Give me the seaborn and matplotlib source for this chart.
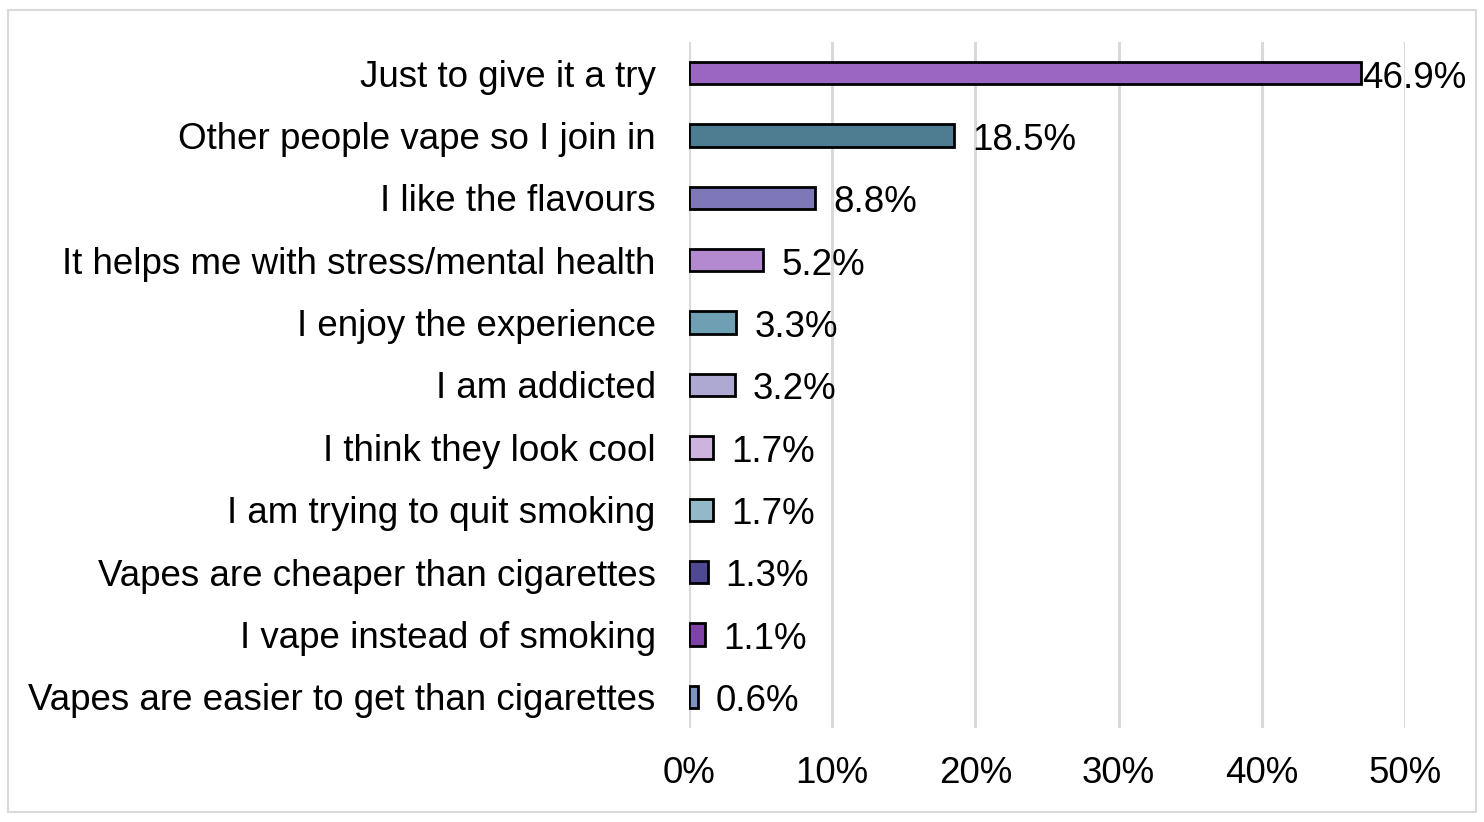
import matplotlib
matplotlib.use("Agg")
import matplotlib.pyplot as plt
import seaborn as sns
import pandas as pd
from matplotlib.patches import Rectangle

categories = [
    "Just to give it a try",
    "Other people vape so I join in",
    "I like the flavours",
    "It helps me with stress/mental health",
    "I enjoy the experience",
    "I am addicted",
    "I think they look cool",
    "I am trying to quit smoking",
    "Vapes are cheaper than cigarettes",
    "I vape instead of smoking",
    "Vapes are easier to get than cigarettes",
]
values = [46.9, 18.5, 8.8, 5.2, 3.3, 3.2, 1.7, 1.7, 1.3, 1.1, 0.6]
colors = ["#9B66C2", "#4E7C91", "#7F78B8", "#B38ACF", "#6E9FB2", "#ADA9D3",
          "#CFB3DF", "#93B8C8", "#4F4893", "#7F42A8", "#7F93C2"]
xticks = [0, 10, 20, 30, 40, 50]

sns.set_theme(style="white")
plt.rcParams['font.family'] = ['Liberation Sans', 'DejaVu Sans']

df = pd.DataFrame({"reason": categories, "pct": values})

fig = plt.figure(figsize=(14.84, 8.22), dpi=100)
ax = fig.add_axes([689/1484, 1 - 728/822, (1405-689)/1484, (728-42)/822])

sns.barplot(data=df, y="reason", x="pct", hue="reason", palette=colors,
            saturation=1, legend=False, orient="h", width=0.36,
            edgecolor="black", linewidth=2, ax=ax, zorder=3)

ax.set_xlim(0, 50)
ax.set_ylim(10.5, -0.5)
ax.set_xticks(xticks)
ax.set_xticklabels([f"{t}%" for t in xticks])
ax.xaxis.grid(True, color="#D9D9D9", linewidth=2.2, zorder=0)
ax.yaxis.grid(False)
for s in ax.spines.values():
    s.set_visible(False)
ax.tick_params(axis="x", length=0, pad=20, labelsize=26.5, labelcolor="black")
ax.tick_params(axis="y", length=0, pad=24, labelsize=26.5, labelcolor="black")
ax.set_xlabel("")
ax.set_ylabel("")

for i, v in enumerate(values):
    off = 1 if i == 0 else 13
    ax.annotate(f"{v}%", xy=(v, i), xytext=(off, -3.5), textcoords="offset points",
                ha="left", va="center", fontsize=26.5, color="black",
                annotation_clip=False)

fig.patches.append(Rectangle((8/1484, 1 - 812/822), (1476-8)/1484, (812-10)/822,
                             transform=fig.transFigure, fill=False,
                             edgecolor="#D9D9D9", linewidth=1.5))

fig.savefig("out.png", dpi=100)
